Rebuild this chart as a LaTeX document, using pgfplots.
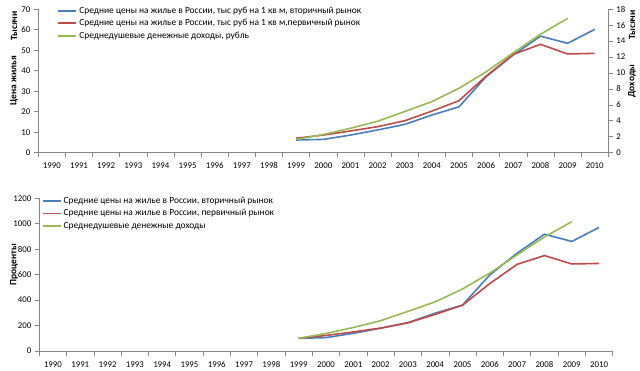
\documentclass[border=0pt]{standalone}
\usepackage{fontspec}
\setmainfont{Carlito}
\usepackage{pgfplots}
\pgfplotsset{compat=1.18}
\definecolor{cblue}{HTML}{4A7EBB}
\definecolor{cred}{HTML}{BE4B48}
\definecolor{cgreen}{HTML}{98B954}
\definecolor{axgray}{HTML}{868686}
\pgfplotsset{
  excel/.style={
    scale only axis,
    xmin=1989.5, xmax=2010.5,
    xtick={1990,1991,1992,1993,1994,1995,1996,1997,1998,1999,2000,2001,2002,2003,2004,2005,2006,2007,2008,2009,2010},
    xticklabels={1990,1991,1992,1993,1994,1995,1996,1997,1998,1999,2000,2001,2002,2003,2004,2005,2006,2007,2008,2009,2010},
    minor xtick={1989.5,1990.5,...,2010.5},
    major x tick style={draw=none},
    tick align=outside,
    major tick length=4.5pt,
    minor tick length=4.5pt,
    axis x line*=bottom,
    axis y line*=left,
    axis line style={draw=axgray, line width=0.7pt, -},
    tick style={draw=axgray, line width=0.7pt},
    ticklabel style={font=\fontsize{8.8}{10}\selectfont, text=black},
    xticklabel style={anchor=north, text height=6pt, text depth=0pt, yshift=-2pt},
    /pgf/number format/assume math mode=true,
    /pgf/number format/set thousands separator={},
    legend cell align=left,
    legend style={draw=none, fill=none, inner sep=0pt, font=\fontsize{9.4}{10}\selectfont, row sep=0.6pt},
    legend image code/.code={\draw[#1, line width=1.9pt] (0pt,0pt) -- (18pt,0pt);},
  }
}
\begin{document}
\begin{tikzpicture}
\useasboundingbox (0pt,0pt) rectangle (640pt,370pt);
% ---------- top chart ----------
\begin{axis}[excel,
  at={(38.3pt,217.3pt)}, anchor=south west,
  width=570pt, height=143.4pt,
  ymin=0, ymax=70, ytick={0,10,...,70},
  legend style={at={(0.0333,1.032)}, anchor=north west},
]
\addplot[cblue, line width=1.6pt] coordinates {(1999,6.2) (2000,6.5) (2001,8.6) (2002,11.1) (2003,13.8) (2004,18.4) (2005,22.4) (2006,37.1) (2007,47.7) (2008,56.9) (2009,53.4) (2010,60.2)};
\addlegendentry{Средние цены на жилье в России, тыс руб на 1 кв м, вторичный рынок}
\addplot[cred, line width=1.6pt] coordinates {(1999,7.05) (2000,8.6) (2001,10.6) (2002,12.7) (2003,15.6) (2004,20.3) (2005,25.4) (2006,37.4) (2007,48.0) (2008,52.9) (2009,48.2) (2010,48.5)};
\addlegendentry{Средние цены на жилье в России, тыс руб на 1 кв м,первичный рынок}
\addlegendimage{cgreen, line width=1.6pt}
\addlegendentry{Среднедушевые денежные доходы, рубль}
\end{axis}
\begin{axis}[excel,
  at={(38.3pt,217.3pt)}, anchor=south west,
  width=570pt, height=143.4pt,
  axis x line=none,
  axis y line*=right,
  ymin=0, ymax=18, ytick={0,2,...,18},
]
\addplot[cgreen, line width=1.6pt] coordinates {(1999,1.659) (2000,2.281) (2001,3.062) (2002,3.947) (2003,5.170) (2004,6.410) (2005,8.088) (2006,10.155) (2007,12.540) (2008,14.864) (2009,16.857)};
\end{axis}
\node[rotate=90, font=\bfseries\fontsize{9.5}{10}\selectfont] at (14pt,344pt) {Тысячи};
\node[rotate=90, font=\bfseries\fontsize{9.5}{10}\selectfont] at (14pt,289pt) {Цена жилья};
\node[rotate=90, font=\bfseries\fontsize{9.5}{10}\selectfont] at (632pt,345pt) {Тысячи};
\node[rotate=90, font=\bfseries\fontsize{9.5}{10}\selectfont] at (632pt,289pt) {Доходы};
% ---------- bottom chart ----------
\begin{axis}[excel,
  at={(39.3pt,19pt)}, anchor=south west,
  width=573.4pt, height=152.7pt,
  ymin=0, ymax=1200, ytick={0,200,...,1200},
  legend style={at={(0.004,1.022)}, anchor=north west},
]
\addplot[cblue, line width=1.6pt] coordinates {(1999,100) (2000,105) (2001,139) (2002,179) (2003,223) (2004,297) (2005,361) (2006,598) (2007,769) (2008,918) (2009,861) (2010,971)};
\addlegendentry{Средние цены на жилье в России, вторичный рынок}
\addplot[cred, line width=1.6pt] coordinates {(1999,100) (2000,122) (2001,150) (2002,180) (2003,221) (2004,288) (2005,360) (2006,530) (2007,681) (2008,750) (2009,684) (2010,688)};
\addlegendentry{Средние цены на жилье в России, первичный рынок}
\addplot[cgreen, line width=1.6pt] coordinates {(1999,100) (2000,137.5) (2001,184.6) (2002,237.9) (2003,311.6) (2004,386.4) (2005,487.5) (2006,612.1) (2007,755.9) (2008,896.0) (2009,1016.1)};
\addlegendentry{Среднедушевые денежные доходы}
\end{axis}
\node[rotate=90, font=\bfseries\fontsize{9.5}{10}\selectfont] at (14pt,105pt) {Проценты};
\end{tikzpicture}
\end{document}
